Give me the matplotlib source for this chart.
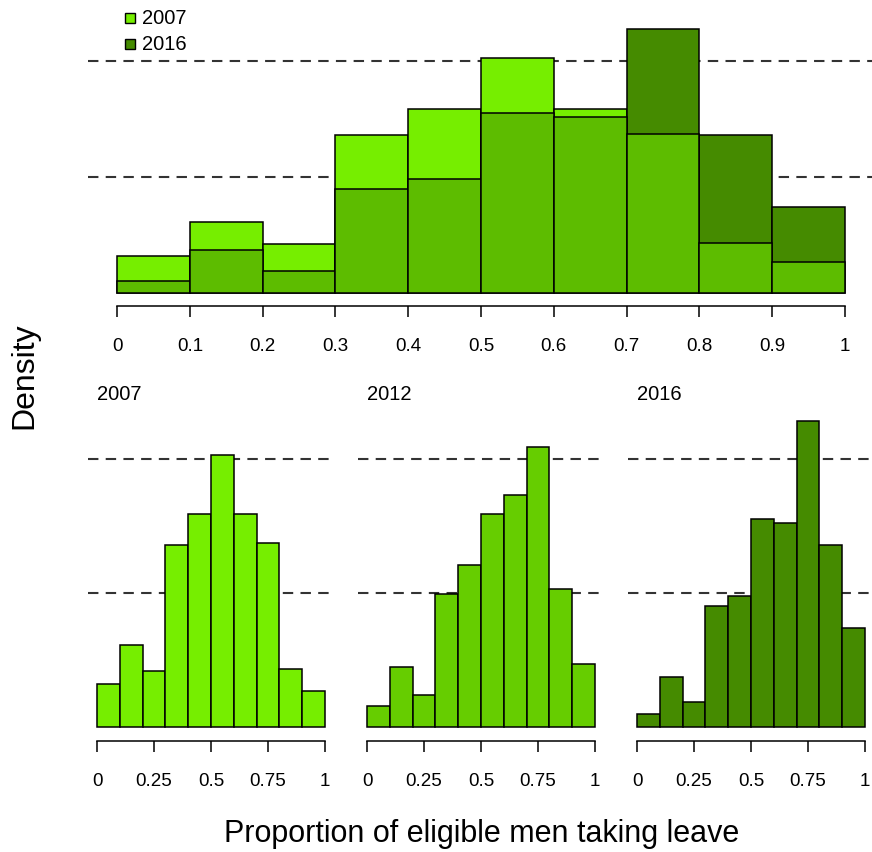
import numpy as np
import matplotlib
matplotlib.use("Agg")
import matplotlib.pyplot as plt
from matplotlib.patches import Rectangle

plt.rcParams['font.family'] = ['Liberation Sans', 'DejaVu Sans']

# ---- data (density per bin of width 0.1) ----
bin_edges = [0.0, 0.1, 0.2, 0.3, 0.4, 0.5, 0.6, 0.7, 0.8, 0.9, 1.0]
dens_2007 = [0.32, 0.61, 0.42, 1.36, 1.59, 2.03, 1.59, 1.37, 0.43, 0.27]
dens_2012 = [0.16, 0.45, 0.24, 0.99, 1.21, 1.59, 1.73, 2.09, 1.03, 0.47]
dens_2016 = [0.10, 0.37, 0.19, 0.90, 0.98, 1.55, 1.52, 2.28, 1.36, 0.74]
years = ['2007', '2012', '2016']
top_ticks = [0, 0.1, 0.2, 0.3, 0.4, 0.5, 0.6, 0.7, 0.8, 0.9, 1]
top_ticklabels = ['0', '0.1', '0.2', '0.3', '0.4', '0.5', '0.6', '0.7', '0.8', '0.9', '1']
bot_ticks = [0, 0.25, 0.5, 0.75, 1]
bot_ticklabels = ['0', '0.25', '0.5', '0.75', '1']
ref_lines = [1, 2]

c2007 = '#76EE00'
c2012 = '#66CD00'
c2016 = '#458B00'
c_overlap = '#5DBC00'

W, H = 872, 853
fig = plt.figure(figsize=(W / 100, H / 100), dpi=100)

def px_axes(x0, x1, y0, y1):
    return fig.add_axes([x0 / W, 1 - y1 / H, (x1 - x0) / W, (y1 - y0) / H])

edges = np.array(bin_edges)
lefts = edges[:-1]
widths = np.diff(edges)

def style_axis(ax, ticks, labels, ylim):
    ax.set_xlim(-0.04, 1.04)
    ax.set_ylim(*ylim)
    for s in ['top', 'right', 'left']:
        ax.spines[s].set_visible(False)
    ax.spines['bottom'].set_bounds(0, 1)
    ax.spines['bottom'].set_linewidth(1.1)
    ax.set_yticks([])
    ax.set_xticks(ticks)
    ax.set_xticklabels(labels)
    ax.tick_params(axis='x', direction='out', length=8, width=1.1,
                   labelsize=13.5, pad=14)
    ax.patch.set_alpha(0)

def ref(ax):
    for v in ref_lines:
        ax.axhline(v, color='#333333', lw=1.5, ls=(0, (5, 3.5)), zorder=0)

# ---- top panel ----
ax = px_axes(88, 874, 19, 307)
ref(ax)
d07 = np.array(dens_2007)
d16 = np.array(dens_2016)
hi = np.maximum(d07, d16)
lo = np.minimum(d07, d16)
hi_cols = [c2007 if a >= b else c2016 for a, b in zip(d07, d16)]
ax.bar(lefts, hi, width=widths, align='edge', color=hi_cols,
       edgecolor='black', linewidth=1.1, zorder=2)
ax.bar(lefts, lo, width=widths, align='edge', color=c_overlap,
       edgecolor='black', linewidth=1.1, zorder=3)
style_axis(ax, top_ticks, top_ticklabels, (-13 / 116, 275 / 116))

# legend
for i, (lab, col) in enumerate([('2007', c2007), ('2016', c2016)]):
    yc = 19 + 26 * i
    fig.add_artist(Rectangle(((125) / W, 1 - (yc + 5) / H), 10 / W, 10 / H,
                             transform=fig.transFigure, facecolor=col,
                             edgecolor='black', linewidth=1.0))
    fig.text(142 / W, 1 - yc / H, lab, fontsize=14.5, va='center', ha='left')

# ---- bottom panels ----
bottom_data = [dens_2007, dens_2012, dens_2016]
bottom_cols = [c2007, c2012, c2016]
for i, (yr, dd, col) in enumerate(zip(years, bottom_data, bottom_cols)):
    x0 = 88 + 270 * i
    axb = px_axes(x0, x0 + 246, 410, 742)
    ref(axb)
    axb.bar(lefts, dd, width=widths, align='edge', color=col,
            edgecolor='black', linewidth=1.1, zorder=2)
    style_axis(axb, bot_ticks, bot_ticklabels, (-14 / 134, 318 / 134))
    fig.text((x0 + 9) / W, 1 - 395 / H, yr, fontsize=14.5, va='center', ha='left')

fig.text(24 / W, 1 - 376 / H, 'Density', fontsize=23, rotation=90,
         va='center', ha='center')
fig.text(482 / W, 1 - 834 / H, 'Proportion of eligible men taking leave',
         fontsize=22, va='center', ha='center')

fig.savefig('out.png', dpi=100)
